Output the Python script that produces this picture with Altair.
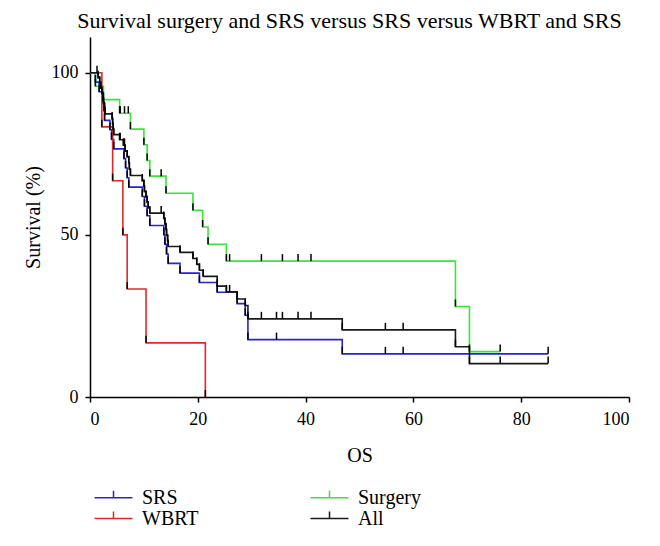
import altair as alt
import pandas as pd

FONT = "Liberation Serif"

groups = ["SRS", "Surgery", "WBRT", "All"]
colors = ["#2424d8", "#36e636", "#e42828", "#1a1a1a"]

# kinds: S = start, E = event (drop), C = censored
srs_t = [0, 1.0, 1.7, 2.4, 2.6, 2.7, 3.7, 4.0, 4.4, 6.3, 6.6, 6.9, 7.2, 9.7, 10.1, 10.6, 11.1,
         13.7, 13.9, 14.2, 14.5, 16.7, 20.3, 23.6, 27.3, 28.8, 29.3, 34.6, 46.8, 54.8, 58.1, 85.0]
srs_s = [100, 97.1, 94.1, 91.2, 88.2, 85.3, 82.4, 79.4, 76.5, 73.5, 70.6, 67.6, 64.7, 61.8, 58.8, 55.9, 52.9,
         50.0, 47.1, 44.1, 41.2, 38.2, 35.3, 32.3, 28.8, 25.2, 17.7, 17.7, 13.3, 13.3, 13.3, 13.3]
srs_k = ["S"] + ["E"] * 26 + ["C", "E", "C", "C", "C"]

surg_t = [0, 1.0, 2.5, 5.5, 5.6, 6.4, 7.1, 7.5, 10.0, 10.6, 11.1, 13.2, 14.1, 19.1, 20.9, 21.9, 25.3,
          25.9, 31.8, 35.7, 38.6, 41.0, 67.8, 70.4, 76.1]
surg_s = [100, 95.8, 91.7, 87.5, 87.5, 87.5, 87.5, 82.6, 77.8, 72.9, 68.1, 68.1, 62.8, 57.6, 52.4, 47.1, 41.9,
          41.9, 41.9, 41.9, 41.9, 41.9, 27.9, 14.0, 14.0]
surg_k = ["S", "E", "E", "E", "C", "C", "C", "E", "E", "E", "E", "C", "E", "E", "E", "E", "E",
          "C", "C", "C", "C", "C", "E", "E", "C"]

wbrt_t = [0, 2.2, 4.2, 6.1, 6.9, 10.4, 21.4]
wbrt_s = [100, 83.3, 66.7, 50.0, 33.3, 16.7, 0]
wbrt_k = ["S", "E", "E", "E", "E", "E", "E"]

all_t = [0, 1.3, 1.5, 1.8, 2.0, 2.2, 2.4, 2.5, 2.7, 2.8, 4.1, 4.2, 4.3, 4.4, 5.5, 5.6,
         6.2, 6.4, 6.5, 6.9, 7.2, 7.3, 7.5, 9.7, 10.0, 10.1, 10.4, 10.6, 10.8, 11.1, 13.2,
         13.7, 13.9, 14.1, 14.2, 14.4, 14.5, 16.7, 19.1, 19.8, 20.3, 21.0, 23.6, 25.3, 25.9,
         27.3, 28.8, 29.3, 31.8, 34.6, 35.7, 38.6, 41.0, 46.8, 54.8, 58.1, 67.8, 70.4, 76.1, 85.0]
all_s = [100, 100, 98.4, 96.8, 95.2, 93.6, 92.0, 90.4, 88.8, 87.3, 85.7, 84.1, 82.5, 80.9, 79.3, 79.3,
         77.6, 77.6, 75.8, 74.0, 72.2, 70.2, 68.3, 66.6, 65.0, 63.3, 61.6, 60.0, 58.3, 56.7, 56.7,
         55.0, 53.3, 51.6, 49.8, 48.1, 46.4, 44.6, 42.7, 40.9, 39.1, 37.2, 34.2, 32.4, 32.4,
         30.2, 28.2, 24.1, 24.1, 24.1, 24.1, 24.1, 24.1, 20.7, 20.7, 20.7, 15.5, 10.3, 10.3, 10.3]
all_k = ["S", "C", "E", "E", "E", "E", "E", "E", "E", "E", "E", "E", "E", "E", "E", "C",
         "E", "C", "E", "E", "E", "E", "E", "E", "E", "E", "E", "E", "E", "E", "C",
         "E", "E", "E", "E", "E", "E", "E", "E", "E", "E", "E", "E", "E", "C",
         "E", "E", "E", "C", "C", "C", "C", "C", "E", "C", "C", "E", "E", "C", "C"]

frames = []
for name, t, s, k in [("SRS", srs_t, srs_s, srs_k), ("Surgery", surg_t, surg_s, surg_k),
                      ("WBRT", wbrt_t, wbrt_s, wbrt_k), ("All", all_t, all_s, all_k)]:
    frames.append(pd.DataFrame({"group": name, "t": t, "s": s, "kind": k}))
df = pd.concat(frames, ignore_index=True)

xs = alt.Scale(domain=[0, 100], nice=False)
ys = alt.Scale(domain=[0, 111], nice=False)

color = alt.Color(
    "group:N",
    scale=alt.Scale(domain=groups, range=colors),
    legend=alt.Legend(
        title=None, orient="none", legendX=13, legendY=450, columns=2,
        direction="horizontal", columnPadding=108, rowPadding=0,
        symbolType="M-2,0L2,0M0,0L0,-0.75", symbolSize=360, symbolStrokeWidth=1.5,
        labelFont=FONT, labelFontSize=20, labelColor="black", labelOffset=18,
        symbolFillColor="transparent",
    ),
)

lines = alt.Chart(df).mark_line(interpolate="step-after", strokeWidth=1.6).encode(
    x=alt.X("t:Q", scale=xs, title="OS",
            axis=alt.Axis(values=[0, 20, 40, 60, 80, 100], grid=False, tickSize=5,
                          labelPadding=8, titlePadding=17)),
    y=alt.Y("s:Q", scale=ys, title="Survival (%)",
            axis=alt.Axis(values=[0, 50, 100], grid=False, tickSize=5,
                          labelPadding=7, titlePadding=8)),
    color=color,
    detail="group:N",
    order="t:Q",
)

ticks = alt.Chart(df).transform_filter(alt.datum.kind != "S").mark_rule(
    color="black", strokeWidth=1.5, y2Offset=-7
).encode(
    x=alt.X("t:Q", scale=xs),
    y=alt.Y("s:Q", scale=ys),
    y2="s:Q",
)

chart = alt.layer(lines, ticks).properties(
    width=539, height=360,
    title=alt.Title("Survival surgery and SRS versus SRS versus WBRT and SRS",
                    font=FONT, fontSize=22, fontWeight="normal", color="black",
                    anchor="middle", offset=4, dx=-10),
    padding={"left": 15, "top": 2, "right": 5, "bottom": 5},
).configure_view(stroke=None).configure_axis(
    domainColor="black", domainWidth=1.5, tickColor="black", tickWidth=1.5,
    labelFont=FONT, labelFontSize=18, labelColor="black",
    titleFont=FONT, titleFontSize=20, titleFontWeight="normal", titleColor="black",
)

chart.save("out.html", embed_options={"renderer": "svg", "actions": False})
